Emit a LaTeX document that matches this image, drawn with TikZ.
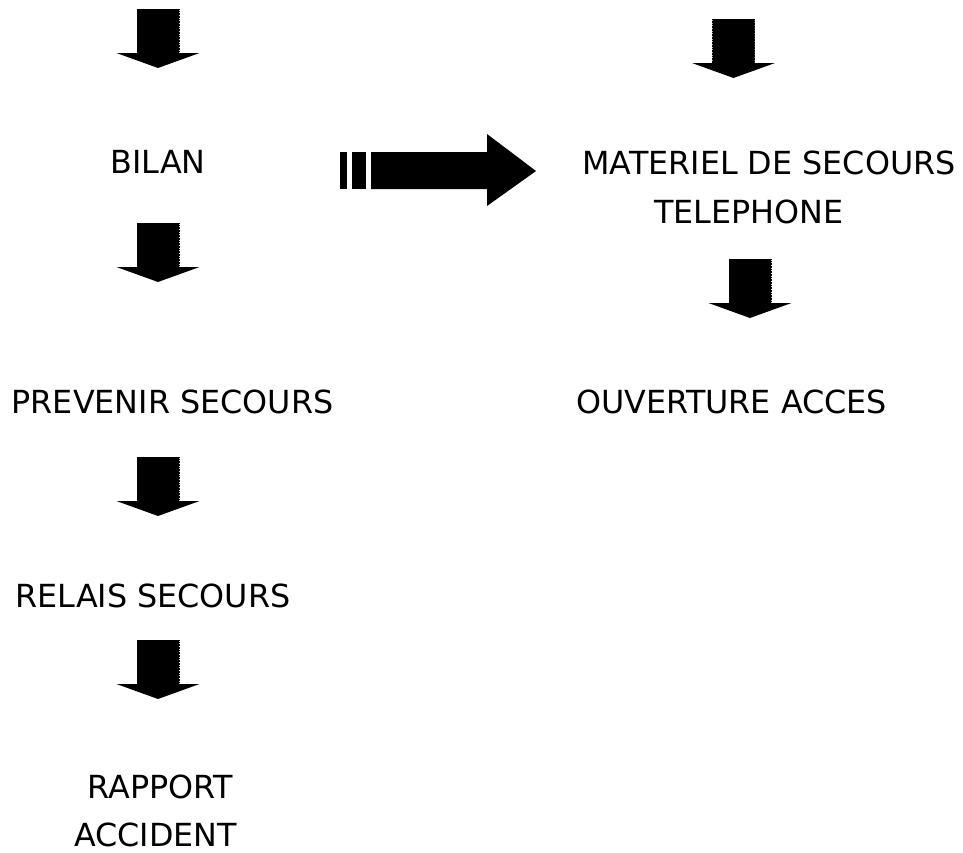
\documentclass[tikz,border=0pt]{standalone}
\usepackage{fontspec}
\setmainfont{DejaVu Sans}
\tikzset{
  lbl/.style={anchor=base, inner sep=0pt, text depth=0pt, font=\fontsize{31.8}{38}\selectfont},
  pics/downarrow/.style={code={
    \fill[black] (-21,0) -- (21,0) -- (21,44) -- (41.5,44) -- (0,59) -- (-41.5,44) -- (-21,44) -- cycle;
    \draw[densely dotted, line width=0.6pt] (-21,44) -- (-21,0) -- (21,0) -- (21,44);
  }}
}
\begin{document}
\begin{tikzpicture}[x=1pt,y=-1pt]
\useasboundingbox (0,0) rectangle (963,852);
% text nodes
\node[lbl] (bilan) at (158,173) {BILAN};
\node[lbl] (mat1) at (769,174) {MATERIEL DE SECOURS};
\node[lbl] (mat2) at (749,223) {TELEPHONE};
\node[lbl] (prev) at (172.5,413) {PREVENIR SECOURS};
\node[lbl] (ouv) at (731.5,413) {OUVERTURE ACCES};
\node[lbl] (relais) at (153,607) {RELAIS SECOURS};
\node[lbl] (rap1) at (160,798) {RAPPORT};
\node[lbl] (rap2) at (155.5,846) {ACCIDENT};
% down arrows
\pic at (158,9) {downarrow};
\pic at (158,223) {downarrow};
\pic at (158,457) {downarrow};
\pic at (158,640) {downarrow};
\pic at (733.5,19) {downarrow};
\pic at (750,259) {downarrow};
% right arrow
\fill[black] (340,152) rectangle (347,189);
\fill[black] (352,152) rectangle (366,189);
\fill[black] (371,152) -- (487,152) -- (487,134) -- (536,171) -- (487,206) -- (487,189) -- (371,189) -- cycle;
\end{tikzpicture}
\end{document}
